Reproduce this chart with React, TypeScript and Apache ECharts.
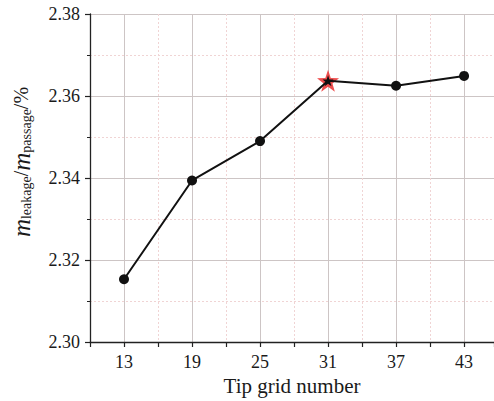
import React, { useEffect, useRef } from "react";
import * as echarts from "echarts";

const gridNumbers = [13, 19, 25, 31, 37, 43];
const massRatio = [2.3153, 2.3394, 2.349, 2.3637, 2.3625, 2.3649];
const highlightIndex = 3;
const yTicks = { min: 2.3, max: 2.38, step: 0.02 };

const STAR =
  "path://M0,-10 L2.35,-3.24 L9.51,-3.09 L3.80,1.24 L5.88,8.09 L0,4 L-5.88,8.09 L-3.80,1.24 L-9.51,-3.09 L-2.35,-3.24 Z";

const toT = (x: number) => (x - 10) / 3;

export default function App() {
  const ref = useRef<HTMLDivElement>(null);
  useEffect(() => {
    if (!ref.current) return;
    const chart = echarts.init(ref.current, undefined, { renderer: "svg" });
    const font = "Liberation Serif";
    const lineData = gridNumbers.map((x, i) =>
      i === highlightIndex
        ? { value: [toT(x), massRatio[i]], symbol: STAR, symbolSize: 11 }
        : { value: [toT(x), massRatio[i]] }
    );
    chart.setOption({
      animation: false,
      backgroundColor: "#fff",
      grid: {
        left: 90,
        right: 0,
        top: 14,
        bottom: 59,
        containLabel: false,
        outerBoundsMode: "none",
      },
      xAxis: [
        {
          type: "value",
          min: 0,
          max: 11.88,
          interval: 1,
          z: 5,
          axisLine: { onZero: false, lineStyle: { color: "#222", width: 1.3 } },
          axisTick: { show: true, length: 5, lineStyle: { color: "#222", width: 1.2 } },
          axisLabel: {
            fontFamily: font,
            fontSize: 18,
            color: "#1a1a1a",
            margin: 11,
            formatter: (v: number) => {
              const r = Math.round(v);
              if (Math.abs(v - r) > 1e-6 || r % 2 === 0) return "";
              return String(10 + 3 * r);
            },
          },
          splitLine: { show: false },
          name: "Tip grid number",
          nameLocation: "middle",
          nameGap: 33,
          nameTextStyle: { fontFamily: font, fontSize: 21, color: "#1a1a1a" },
        },
        {
          type: "value",
          min: 0,
          max: 11.88,
          interval: 2,
          position: "bottom",
          axisLine: { show: false },
          axisTick: { show: false },
          axisLabel: { show: false },
          minorTick: { show: false, splitNumber: 2 },
          splitLine: {
            show: true,
            lineStyle: { color: "#f0d4d4", type: [2, 2], width: 1 },
          },
          minorSplitLine: {
            show: true,
            lineStyle: { color: "#cdc5c5", width: 1 },
          },
        },
      ],
      yAxis: {
        type: "value",
        min: yTicks.min,
        max: yTicks.max,
        interval: yTicks.step,
        axisLine: { show: true, lineStyle: { color: "#222", width: 1.3 } },
        axisTick: { show: true, length: 5, lineStyle: { color: "#222", width: 1.2 } },
        minorTick: { show: true, splitNumber: 2, length: 3, lineStyle: { color: "#222" } },
        minorSplitLine: { show: true, lineStyle: { color: "#f0d4d4", type: [2, 2], width: 1 } },
        splitLine: { show: true, lineStyle: { color: "#cdc5c5", width: 1 } },
        axisLabel: {
          fontFamily: font,
          fontSize: 18,
          color: "#1a1a1a",
          margin: 10,
          formatter: (v: number) => v.toFixed(2),
        },
      },
      graphic: [
        {
          type: "text",
          x: 21,
          y: 162,
          rotation: Math.PI / 2,
          style: {
            text: "{mi|m}{sub|leakage}{sl|/}{mi|m}{sub|passage}{sl|/%}",
            align: "center",
            verticalAlign: "middle",
            rich: {
              mi: { fontFamily: font, fontSize: 25, fontStyle: "italic", fill: "#1a1a1a" },
              sub: { fontFamily: font, fontSize: 14, fill: "#1a1a1a", padding: [10, 0, 0, 0] },
              sl: { fontFamily: font, fontSize: 20, fill: "#1a1a1a" },
            },
          },
        },
      ],
      series: [
        {
          type: "scatter",
          xAxisIndex: 0,
          z: 1,
          symbol: STAR,
          symbolSize: 22,
          itemStyle: { color: "#ec3b3b", opacity: 0.9 },
          data: [[toT(gridNumbers[highlightIndex]), massRatio[highlightIndex]]],
        },
        {
          type: "line",
          xAxisIndex: 0,
          z: 3,
          symbol: "circle",
          symbolSize: 10,
          lineStyle: { color: "#111", width: 2 },
          itemStyle: { color: "#111" },
          data: lineData,
        },
      ],
    });
    return () => chart.dispose();
  }, []);
  return <div ref={ref} style={{ width: 494, height: 401, position: "absolute", left: 0, top: 0 }} />;
}
